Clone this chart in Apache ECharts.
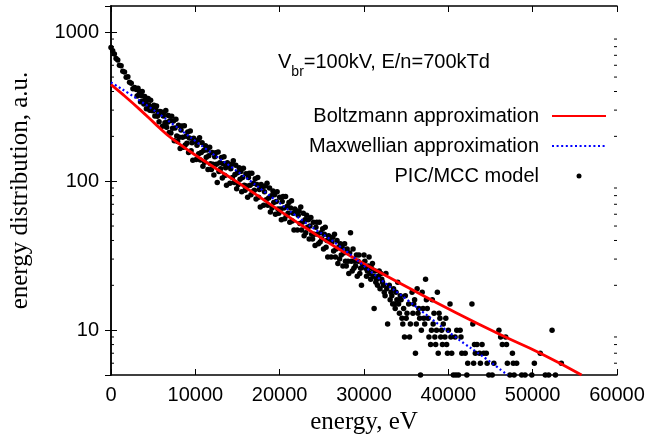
<!DOCTYPE html>
<html>
<head>
<meta charset="UTF-8">
<title>energy distribution</title>
<style>
  html, body { margin: 0; padding: 0; background: #fff; }
</style>
</head>
<body>
<div id="chart" style="width:649px;height:443px"></div>
<script src="https://cdn.jsdelivr.net/npm/echarts@6/dist/echarts.min.js"></script>
<script>
// axis ticks
var xTicks = [0, 10000, 20000, 30000, 40000, 50000, 60000];
var yMinorTicks = [6, 7, 8, 9, 20, 30, 40, 50, 60, 70, 80, 90, 200, 300, 400, 500, 600, 700, 800, 900];

// Boltzmann approximation [energy eV, value]
var boltzmann = [
  [0, 445], [1500, 378], [3500, 300], [5400, 238], [7400, 190], [11300, 134],
  [15300, 96], [19200, 68], [23100, 48.5], [27100, 34.8], [31000, 26],
  [36000, 18.3], [40000, 13.9], [46200, 9.3], [50900, 7.0], [55800, 5]
];

// Maxwellian approximation
var maxwellian = [
  [0, 460], [3500, 345], [7400, 240], [11300, 164], [15300, 113], [19200, 77],
  [23000, 53], [27000, 37], [32000, 21.8], [35100, 16], [40700, 9.1],
  [44600, 6.35], [47000, 5]
];

// PIC/MCC model points
var picModel = [
  [0,790],[200,750],[400,715],[600,665],[800,650],
  [1000,600],[1200,595],[1400,548],[1600,540],[1800,498],
  [2000,502],[2200,462],[2400,455],[2600,418],[2800,425],
  [3000,412],[3100,373],[3200,421],[3300,380],[3400,400],[3500,342],[3600,375],[3700,400],[3800,346],[3900,330],
  [4000,371],[4100,335],[4200,307],[4300,350],[4400,359],[4500,324],[4600,299],[4700,350],[4800,298],[4900,316],
  [5000,297],[5100,323],[5200,274],[5300,304],[5400,320],[5500,273],[5600,286],[5700,251],[5800,294],[5900,285],
  [6000,291],[6100,234],[6200,274],[6300,289],[6400,247],[6500,298],[6600,230],[6700,249],[6800,276],[6900,212],
  [7000,255],[7100,211],[7200,273],[7300,227],[7400,254],[7500,187],[7600,228],[7700,261],[7800,201],[7900,185],
  [8000,237],[8100,197],[8200,166],[8300,221],[8400,235],[8500,197],[8600,169],[8700,236],[8800,175],[8900,200],
  [9000,180],[9100,214],[9200,156],[9300,195],[9400,217],[9500,160],[9600,181],[9700,138],[9800,194],[9900,185],
  [10000,186],[10100,140],[10200,174],[10300,188],[10400,153],[10500,196],[10600,139],[10700,156],[10800,181],[10900,126],
  [11000,161],[11100,134],[11200,173],[11300,145],[11400,162],[11500,120],[11600,148],[11700,169],[11800,131],[11900,120],
  [12000,156],[12100,130],[12200,110],[12300,146],[12400,155],[12500,130],[12600,98],[12700,157],[12800,116],[12900,133],
  [13000,121],[13100,144],[13200,105],[13300,131],[13400,146],[13500,109],[13600,123],[13700,94],[13800,133],[13900,127],
  [14000,129],[14100,97],[14200,121],[14300,130],[14400,106],[14500,137],[14600,98],[14700,111],[14800,128],[14900,89],
  [15000,114],[15100,95],[15200,123],[15300,103],[15400,116],[15500,85],[15600,106],[15700,122],[15800,94],[15900,87],
  [16000,112],[16100,93],[16200,78],[16300,106],[16400,113],[16500,94],[16600,81],[16700,113],[16800,85],[16900,97],
  [17000,87],[17100,104],[17200,76],[17300,95],[17400,106],[17500,78],[17600,88],[17700,67],[17800,95],[17900,91],
  [18000,92],[18100,69],[18200,85],[18300,93],[18400,75],[18500,97],[18600,69],[18700,77],[18800,90],[18900,62],
  [19000,80],[19100,66],[19200,86],[19300,72],[19400,81],[19500,60],[19600,73],[19700,85],[19800,65],[19900,61],
  [20000,78],[20100,65],[20200,55],[20300,73],[20400,79],[20500,66],[20600,56],[20700,79],[20800,59],[20900,68],
  [21000,61],[21100,72],[21200,53],[21300,66],[21400,74],[21500,54],[21600,61],[21700,47],[21800,65],[21900,63],
  [22000,63],[22100,47],[22200,59],[22300,63],[22400,52],[22500,67],[22600,47],[22700,53],[22800,61],[22900,43],
  [23000,55],[23100,45],[23200,59],[23300,49],[23400,55],[23500,41],[23600,50],[23700,57],[23800,44],[23900,41],
  [24000,53],[24100,44],[24200,37],[24300,49],[24400,53],[24500,44],[24600,38],[24700,53],[24800,39],[24900,45],
  [25000,41],[25100,48],[25200,35],[25300,44],[25400,49],[25500,36],[25600,40],[25700,31],[25800,43],[25900,41],
  [26000,41],[26100,31],[26200,39],[26300,42],[26400,34],[26500,44],[26600,31],[26700,35],[26800,40],[26900,28],
  [27000,36],[27100,30],[27200,38],[27300,32],[27400,36],[27500,27],[27600,33],[27700,38],[27800,29],[27900,27],
  [28000,35],[28100,29],[28200,24],[28300,33],[28400,45],[28500,29],[28600,25],[28700,35],[28800,26],[28900,29],
  [29000,27],[29100,32],[29200,23],[29300,29],[29400,32],[29500,24],[29600,26],[29700,20],[29800,28],[29900,27],
  [30000,32],[30100,29],[30200,26],[30300,23],[30400,25],[30500,27],[30600,31],[30700,24],[30800,22],[30900,26],
  [31000,28],[31100,23],[31200,14],[31300,25],[31400,21],[31500,22],[31600,20],[31700,23],[31800,25],[31900,19],
  [32000,24],[32100,22],[32200,21],[32300,20],[32400,18],[32500,17],[32600,24],[32700,19],[32800,11],
  [33000,20],[33100,16],[33200,18],[33300,17],[33400,15],[33500,19],[33600,15],[33700,14],[33800,18],[33900,16],
  [34000,21],[34100,15],[34200,13],[34300,17],[34400,16],[34500,12],[34600,11],[34700,14],[34800,9],[34900,17],
  [35000,12],[35100,13],[35300,15],[35400,9],[35500,11],[35700,18],[35800,13],[35900,15],
  [36000,16],[36100,7],[36200,11],[36300,19],[36400,13],[36500,14],[36600,12],[36700,5],[36800,10],[36900,18],
  [37000,14],[37100,12],[37200,11],[37300,22],[37400,16],[37500,14],[37600,12],[37700,9],[37900,8],
  [38000,10],[38100,16],[38200,11],[38300,13],[38400,9],[38500,8],[38600,10],[38700,18],[38800,7],[38900,13],
  [39000,12],[39100,9],[39200,10],[39300,8],[39400,11],[39600,9],[39700,12],[39800,8],[39900,7],
  [40000,10],[40200,15],[40300,9],[40400,7],[40600,5],[40800,9],[40900,5],
  [41000,10],[41200,5],[41400,10],[41500,9],[41600,7],
  [42000,7],[42200,5],[42300,6],[42800,15],[42900,11],
  [43000,6],[43100,8],[43200,7],[43400,8],[43700,7],[43800,6],
  [44000,8],[44200,7],[44500,7],[44600,6],[44800,5],
  [45200,5],[45400,6],[46000,10],[46200,9],[46400,8],[46800,9],[46900,8],
  [47000,6],[47300,5],[47600,7],[47700,6],[47800,5],[48100,6],[48700,5],
  [49100,5],[49900,5],[50200,6],[50900,7],[51500,5],[51900,5],
  [52300,10],[52700,5],[53400,6]
];

var chart = echarts.init(document.getElementById('chart'));

var sans = 'Liberation Sans';
var serif = 'Liberation Serif';

// small log ticks on left and right frame
function minorTicks(params, api) {
  var v = api.value(1);
  var pl = api.coord([xTicks[0], v]);
  var pr = api.coord([xTicks[xTicks.length - 1], v]);
  var st = { stroke: '#000', lineWidth: 1 };
  return {
    type: 'group',
    children: [
      { type: 'line', shape: { x1: pl[0], y1: pl[1], x2: pl[0] + 3, y2: pl[1] }, style: st },
      { type: 'line', shape: { x1: pr[0] - 3, y1: pr[1], x2: pr[0], y2: pr[1] }, style: st }
    ]
  };
}

var axisLine = { lineStyle: { color: '#000', width: 1.5 } };
var tick = { inside: true, length: 6, lineStyle: { color: '#000', width: 1 } };

var option = {
  animation: false,
  backgroundColor: '#fff',
  grid: { left: 109, right: 32, top: 6, bottom: 68 },
  title: {
    text: '{a|V}{s|br}{a|=100kV, E/n=700kTd}',
    left: 278,
    top: 52,
    padding: 0,
    textStyle: {
      rich: {
        a: { fontFamily: sans, fontSize: 20, fontWeight: 'normal', color: '#000', lineHeight: 22, verticalAlign: 'top' },
        s: { fontFamily: sans, fontSize: 14, fontWeight: 'normal', color: '#000', lineHeight: 14, padding: [13, 0, 0, 0], verticalAlign: 'top' }
      }
    }
  },
  legend: {
    orient: 'vertical',
    right: 42,
    top: 106,
    padding: 0,
    align: 'right',
    itemWidth: 54,
    itemHeight: 5,
    itemGap: 10,
    selectedMode: false,
    textStyle: { fontFamily: sans, fontSize: 20, color: '#000', lineHeight: 20, padding: [0, 8, 0, 0] },
    data: [
      { name: 'Boltzmann approximation', itemStyle: { opacity: 0 } },
      { name: 'Maxwellian approximation', itemStyle: { opacity: 0 } },
      'PIC/MCC model'
    ]
  },
  xAxis: [{
    type: 'value',
    min: xTicks[0],
    max: xTicks[xTicks.length - 1],
    interval: 10000,
    name: 'energy, eV',
    nameLocation: 'middle',
    nameGap: 34,
    nameTextStyle: { fontFamily: serif, fontSize: 25, color: '#000' },
    axisLine: axisLine,
    axisTick: tick,
    axisLabel: { fontFamily: sans, fontSize: 20, color: '#000', margin: 10, formatter: function (v) { return String(v); } },
    splitLine: { show: false }
  }, {
    type: 'value',
    position: 'top',
    min: xTicks[0],
    max: xTicks[xTicks.length - 1],
    interval: 10000,
    axisLine: axisLine,
    axisTick: tick,
    axisLabel: { show: false },
    splitLine: { show: false }
  }],
  yAxis: [{
    type: 'log',
    logBase: 10,
    min: 5,
    max: 1500,
    name: 'energy distribution, a.u.',
    nameLocation: 'middle',
    nameGap: 78,
    nameTextStyle: { fontFamily: serif, fontSize: 25, color: '#000' },
    axisLine: axisLine,
    axisTick: tick,
    axisLabel: {
      fontFamily: sans, fontSize: 20, color: '#000', margin: 12,
      showMinLabel: false, showMaxLabel: false,
      formatter: function (v) { return String(Math.round(v)); }
    },
    splitLine: { show: false }
  }, {
    type: 'log',
    logBase: 10,
    position: 'right',
    min: 5,
    max: 1500,
    axisLine: axisLine,
    axisTick: tick,
    axisLabel: { show: false },
    splitLine: { show: false }
  }],
  series: [{
    name: 'Boltzmann approximation',
    type: 'line',
    data: boltzmann,
    smooth: true,
    symbol: 'none',
    lineStyle: { color: '#ff0000', width: 2.8 },
    itemStyle: { color: '#ff0000' }
  }, {
    name: 'Maxwellian approximation',
    type: 'line',
    data: maxwellian,
    smooth: true,
    symbol: 'none',
    lineStyle: { color: '#0000ff', width: 2.2, type: [2, 2.6] },
    itemStyle: { color: '#0000ff' }
  }, {
    name: 'PIC/MCC model',
    type: 'scatter',
    data: picModel,
    symbol: 'circle',
    symbolSize: 5.5,
    itemStyle: { color: '#000', opacity: 1 }
  }, {
    type: 'custom',
    silent: true,
    z: 10,
    renderItem: minorTicks,
    data: yMinorTicks.map(function (v) { return [0, v]; })
  }]
};

chart.setOption(option);
</script>
</body>
</html>
